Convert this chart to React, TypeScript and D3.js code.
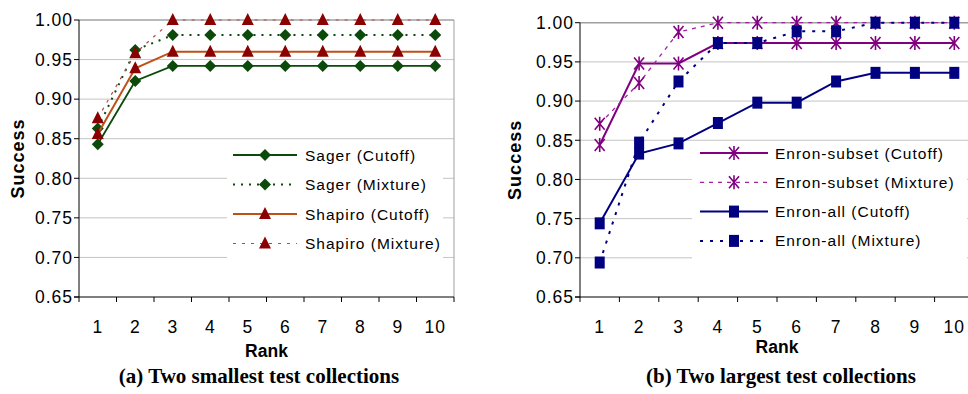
import { useEffect } from 'react';
import * as d3 from 'd3';

const ranks = ['1', '2', '3', '4', '5', '6', '7', '8', '9', '10'];
const yTicks = [0.65, 0.7, 0.75, 0.8, 0.85, 0.9, 0.95, 1.0];

const sagerCutoff = [0.843, 0.923, 0.942, 0.942, 0.942, 0.942, 0.942, 0.942, 0.942, 0.942];
const sagerMixture = [0.863, 0.962, 0.981, 0.981, 0.981, 0.981, 0.981, 0.981, 0.981, 0.981];
const shapiroCutoff = [0.856, 0.939, 0.960, 0.960, 0.960, 0.960, 0.960, 0.960, 0.960, 0.960];
const shapiroMixture = [0.876, 0.958, 1.0, 1.0, 1.0, 1.0, 1.0, 1.0, 1.0, 1.0];

const subsetCutoff = [0.844, 0.948, 0.948, 0.974, 0.974, 0.974, 0.974, 0.974, 0.974, 0.974];
const subsetMixture = [0.871, 0.923, 0.988, 1.0, 1.0, 1.0, 1.0, 1.0, 1.0, 1.0];
const allCutoff = [0.744, 0.833, 0.846, 0.872, 0.898, 0.898, 0.925, 0.936, 0.936, 0.936];
const allMixture = [0.694, 0.847, 0.925, 0.974, 0.974, 0.989, 0.989, 1.0, 1.0, 1.0];

type Marker = 'diamond' | 'triangle' | 'star' | 'square';

interface Series {
  name: string;
  values: number[];
  line: string;
  marker: string;
  width: number;
  dash?: string;
  shape: Marker;
}

const leftSeries: Series[] = [
  { name: 'Sager (Cutoff)', values: sagerCutoff, line: '#0b4a0b', marker: '#0b4a0b', width: 1.8, shape: 'diamond' },
  { name: 'Sager (Mixture)', values: sagerMixture, line: '#0b4a0b', marker: '#0b4a0b', width: 2, dash: '2,6', shape: 'diamond' },
  { name: 'Shapiro (Cutoff)', values: shapiroCutoff, line: '#c0501a', marker: '#8b0000', width: 2, shape: 'triangle' },
  { name: 'Shapiro (Mixture)', values: shapiroMixture, line: '#b04848', marker: '#8b0000', width: 1.2, dash: '3,6', shape: 'triangle' },
];

const rightSeries: Series[] = [
  { name: 'Enron-subset (Cutoff)', values: subsetCutoff, line: '#800080', marker: '#800080', width: 2, shape: 'star' },
  { name: 'Enron-subset (Mixture)', values: subsetMixture, line: '#a020a0', marker: '#800080', width: 1.3, dash: '4,5', shape: 'star' },
  { name: 'Enron-all (Cutoff)', values: allCutoff, line: '#000080', marker: '#000080', width: 2, shape: 'square' },
  { name: 'Enron-all (Mixture)', values: allMixture, line: '#000080', marker: '#000080', width: 2, dash: '3,7', shape: 'square' },
];

const sans = '"Liberation Sans", Arial, sans-serif';
const serif = '"Liberation Serif", "Times New Roman", serif';

function MarkerShape({ shape, x, y, color }: { shape: Marker; x: number; y: number; color: string }) {
  if (shape === 'diamond') {
    return <path d={`M${x},${y - 6}L${x + 6},${y}L${x},${y + 6}L${x - 6},${y}Z`} fill={color} />;
  }
  if (shape === 'triangle') {
    return <path d={`M${x},${y - 7}L${x + 6},${y + 5}L${x - 6},${y + 5}Z`} fill={color} />;
  }
  if (shape === 'square') {
    return <rect x={x - 5} y={y - 6} width={10} height={12} fill={color} />;
  }
  return (
    <path
      d={`M${x - 5},${y - 6}L${x + 5},${y + 6}M${x + 5},${y - 6}L${x - 5},${y + 6}M${x},${y - 7}L${x},${y + 7}`}
      stroke={color}
      strokeWidth={1.6}
      fill="none"
    />
  );
}

interface PanelProps {
  series: Series[];
  left: number;
  right: number;
  top: number;
  bottom: number;
  titleX: number;
  rankY: number;
  caption: string;
  captionX: number;
  legend: { x0: number; x1: number; y0: number; y1: number; lineX0: number; lineX1: number; textX: number; rowY: number; gap: number };
}

function Panel({ series, left, right, top, bottom, titleX, rankY, caption, captionX, legend }: PanelProps) {
  const x = d3.scaleBand<string>().domain(ranks).range([left, right]).padding(0);
  const y = d3.scaleLinear().domain([0.65, 1.0]).range([bottom, top]);
  const cx = (r: string) => (x(r) ?? 0) + x.bandwidth() / 2;
  const line = d3
    .line<number>()
    .x((_, i) => cx(ranks[i]))
    .y((d) => y(d));
  const ticksX = [...ranks.map((r) => x(r) ?? 0), right];
  const midX = (left + right) / 2;

  return (
    <g>
      {yTicks.slice(1).map((t) => (
        <line key={t} x1={left} x2={right} y1={y(t)} y2={y(t)} stroke={t === 1 ? '#a0a0a0' : '#c4c4c4'} strokeWidth={t === 1 ? 1.5 : 1} />
      ))}
      <line x1={right} x2={right} y1={top} y2={bottom} stroke="#a0a0a0" />
      <line x1={left} x2={left} y1={top} y2={bottom} stroke="#000" />
      <line x1={left - 5} x2={right} y1={bottom} y2={bottom} stroke="#000" />
      {yTicks.map((t) => (
        <g key={t}>
          <line x1={left - 5} x2={left} y1={y(t)} y2={y(t)} stroke="#000" />
          <text x={left - 6} y={y(t)} dy="0.36em" textAnchor="end" fontFamily={sans} fontSize={17.5} letterSpacing={1} fill="#000">
            {t.toFixed(2)}
          </text>
        </g>
      ))}
      {ticksX.map((t, i) => (
        <line key={i} x1={t} x2={t} y1={bottom} y2={bottom + 5} stroke="#000" />
      ))}
      {ranks.map((r) => (
        <text key={r} x={cx(r)} y={333} textAnchor="middle" fontFamily={sans} fontSize={17.5} letterSpacing={1} fill="#000">
          {r}
        </text>
      ))}
      <text
        transform={`translate(${titleX},${(top + bottom) / 2}) rotate(-90)`}
        dy="0.36em"
        textAnchor="middle"
        fontFamily={sans}
        fontWeight="bold"
        fontSize={18}
        letterSpacing={1}
        fill="#000"
      >
        Success
      </text>
      <text x={midX} y={rankY} textAnchor="middle" fontFamily={sans} fontWeight="bold" fontSize={17.5} fill="#000">
        Rank
      </text>
      <text x={captionX} y={383} textAnchor="middle" fontFamily={serif} fontWeight="bold" fontSize={21} fill="#000">
        {caption}
      </text>

      {series.map((s) => (
        <g key={s.name}>
          <path d={line(s.values) ?? ''} fill="none" stroke={s.line} strokeWidth={s.width} strokeDasharray={s.dash} />
          {s.values.map((v, i) => (
            <MarkerShape key={i} shape={s.shape} x={cx(ranks[i])} y={y(v)} color={s.marker} />
          ))}
        </g>
      ))}

      <rect x={legend.x0} y={legend.y0} width={legend.x1 - legend.x0} height={legend.y1 - legend.y0} fill="#fff" />
      {series.map((s, i) => {
        const ly = legend.rowY + i * legend.gap;
        const mx = (legend.lineX0 + legend.lineX1) / 2;
        return (
          <g key={s.name}>
            <line x1={legend.lineX0} x2={legend.lineX1} y1={ly} y2={ly} stroke={s.line} strokeWidth={s.width} strokeDasharray={s.dash} />
            <MarkerShape shape={s.shape} x={mx} y={ly} color={s.marker} />
            <text x={legend.textX} y={ly} dy="0.36em" fontFamily={sans} fontSize={15.5} letterSpacing={1} fill="#000">
              {s.name}
            </text>
          </g>
        );
      })}
    </g>
  );
}

export default function App() {
  useEffect(() => {
    document.body.style.margin = '0';
  }, []);

  return (
    <svg width={968} height={394} style={{ display: 'block', background: '#fff' }}>
      <Panel
        series={leftSeries}
        left={79}
        right={454}
        top={20}
        bottom={297}
        titleX={18}
        rankY={357}
        caption="(a) Two smallest test collections"
        captionX={259}
        legend={{ x0: 227, x1: 443, y0: 142, y1: 262, lineX0: 233, lineX1: 297, textX: 305, rowY: 155, gap: 29.5 }}
      />
      <Panel
        series={rightSeries}
        left={580}
        right={974}
        top={22.7}
        bottom={297}
        titleX={515}
        rankY={353}
        caption="(b) Two largest test collections"
        captionX={781}
        legend={{ x0: 692, x1: 967, y0: 141, y1: 262, lineX0: 700, lineX1: 768, textX: 775, rowY: 153, gap: 29.3 }}
      />
    </svg>
  );
}
